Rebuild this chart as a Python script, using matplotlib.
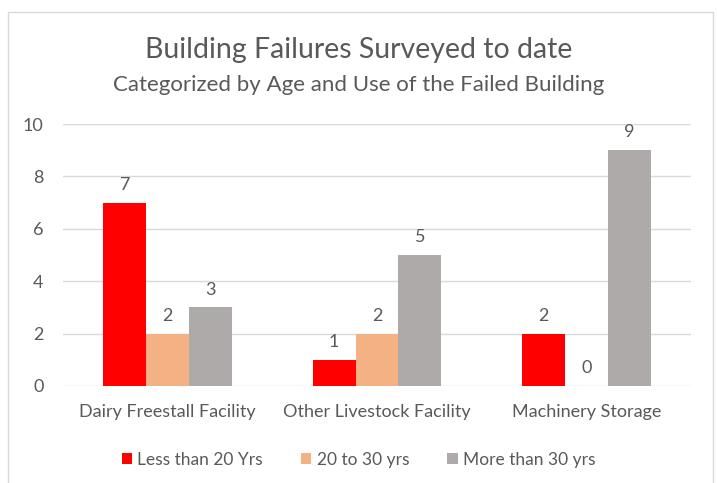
import matplotlib.pyplot as plt
from matplotlib.patches import Rectangle
import numpy as np

plt.rcParams['font.family'] = ['Lato', 'DejaVu Sans']

categories = ['Dairy Freestall Facility', 'Other Livestock Facility', 'Machinery Storage']
less_20 = [7, 1, 2]
from_20_to_30 = [2, 2, 0]
more_30 = [3, 5, 9]
series_names = ['Less than 20 Yrs', '20 to 30 yrs', 'More than 30 yrs']
colors = ['#ff0000', '#f4b183', '#aeaaaa']
TEXT = '#595959'

fig = plt.figure(figsize=(7.17, 4.83), dpi=100)
# chart border
fig.patches.append(Rectangle((8/717, -0.05), 705/717, 1 - 12/483 + 0.05,
                             transform=fig.transFigure, fill=False,
                             edgecolor='#d9d9d9', linewidth=1))

ax = fig.add_axes([63/717, 97/483, 628/717, 262/483])
x = np.arange(len(categories))
w = 0.205
for i, (vals, name, c) in enumerate(zip([less_20, from_20_to_30, more_30], series_names, colors)):
    pos = x + (i - 1) * w
    bars = ax.bar(pos, vals, w, color=c, label=name, zorder=3)
    for b, v in zip(bars, vals):
        ax.annotate(str(v), (b.get_x() + b.get_width()/2, v), xytext=(0, 7),
                    textcoords='offset points', ha='center', va='bottom',
                    fontsize=13, color=TEXT)

ax.set_xlim(-0.5, 2.5)
ax.set_ylim(0, 10)
ax.set_yticks(range(0, 11, 2))
ax.yaxis.grid(True, color='#d9d9d9', linewidth=1, zorder=0)
ax.set_axisbelow(True)
for s in ax.spines.values():
    s.set_visible(False)
ax.set_xticks(x)
ax.set_xticklabels(categories)
ax.tick_params(axis='both', length=0, labelsize=13, colors=TEXT)
ax.tick_params(axis='y', pad=14)
ax.tick_params(axis='x', pad=13)

fig.text(0.5, 1 - 50/483, 'Building Failures Surveyed to date', ha='center', va='center',
         fontsize=20.5, color=TEXT)
fig.text(0.5, 1 - 85/483, 'Categorized by Age and Use of the Failed Building', ha='center',
         va='center', fontsize=16, color=TEXT)

fig.legend(loc='center', bbox_to_anchor=(0.5, 1 - 460/483), ncol=3, frameon=False,
           fontsize=12.5, handlelength=0.6, handleheight=0.6, handletextpad=0.3,
           columnspacing=2.2, labelcolor=TEXT)

fig.savefig('out.png', dpi=100)
